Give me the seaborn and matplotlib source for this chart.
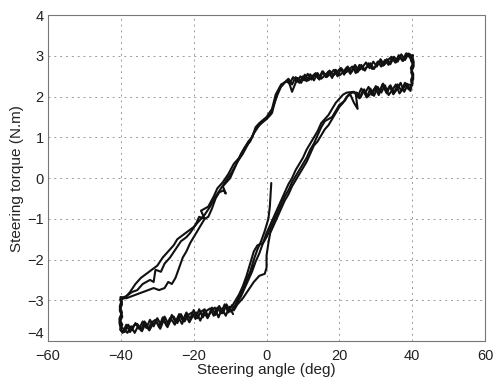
import numpy as np
import pandas as pd
import matplotlib
matplotlib.use("Agg")
import matplotlib.pyplot as plt
import seaborn as sns

angle_c1 = [1.3, 1.1, 0.9, 0.5, -0.5, -1.5, -2.5, -3.5, -4.5, -6, -7.5, -9,
            -10, -11, -12, -13, -14, -15, -16, -17, -18, -19, -20, -21, -22, -23, -24,
            -25, -26, -27, -28, -29, -30, -31, -32, -33, -34, -35, -36, -37, -38, -39,
            -40, -40.4, -39.6, -40.3, -39.7, -40.2,
            -39, -37.5, -36, -34.5, -33, -31.5, -30, -28.5, -27, -25.5, -24.5, -23, -21.5,
            -20, -18.5, -17, -15.5, -14, -12.5, -11, -9.5, -8, -6.5, -5, -3.5, -2, -0.5,
            1, 2, 3, 4, 5,
            6, 7, 8, 9, 10, 11, 12, 13, 14, 15, 16, 17, 18, 19, 20, 21, 22, 23, 24, 25,
            26, 27, 28, 29, 30, 31, 32, 33, 34, 35, 36, 37, 38, 39,
            40, 40.4, 39.6, 40.3, 39.7, 40.1,
            39, 38, 37, 36, 35, 34, 33, 32, 31, 30, 29, 28, 27, 26, 25, 24,
            22, 21, 20, 19, 18, 17, 16, 15, 14, 13, 12, 11, 10, 9, 8, 7, 6, 5, 4, 3,
            2, 1, 0, -1, -2, -3, -4, -5, -6, -7, -8, -9]
torque_c1 = [-0.12, -0.4, -0.7, -1.0, -1.3, -1.55, -1.75, -2.0, -2.3, -2.6, -2.9, -3.2,
             -3.28, -3.10, -3.32, -3.14, -3.36, -3.18, -3.40, -3.22, -3.28, -3.44, -3.24,
             -3.46, -3.30, -3.50, -3.34, -3.54, -3.36, -3.58, -3.40, -3.60, -3.44, -3.64,
             -3.48, -3.68, -3.52, -3.70, -3.56, -3.74, -3.60, -3.78,
             -3.72, -3.55, -3.40, -3.25, -3.10, -2.98,
             -2.95, -2.8, -2.6, -2.45, -2.35, -2.25, -2.15, -1.95, -1.8, -1.65, -1.5, -1.4,
             -1.3, -1.2, -1.05, -0.9, -0.7, -0.45, -0.25, -0.05, 0.15, 0.4, 0.6, 0.85, 1.1,
             1.3, 1.42, 1.55, 1.8, 2.05, 2.25, 2.35,
             2.44, 2.30, 2.48, 2.34, 2.50, 2.38, 2.55, 2.40, 2.58, 2.44, 2.52, 2.62, 2.46,
             2.66, 2.52, 2.60, 2.72, 2.56, 2.74, 2.60, 2.78, 2.64, 2.82, 2.68, 2.74, 2.88,
             2.76, 2.92, 2.80, 2.98, 2.86, 3.04, 2.90, 3.06,
             3.0, 2.85, 2.7, 2.55, 2.42, 2.32,
             2.18, 2.34, 2.14, 2.30, 2.10, 2.28, 2.08, 2.32, 2.12, 2.26, 2.04, 2.24, 2.08,
             2.20, 2.00, 2.12,
             2.1, 2.05, 1.95, 1.85, 1.7, 1.55, 1.45, 1.35, 1.15, 1.0, 0.85, 0.7, 0.5, 0.35,
             0.2, 0.0, -0.15, -0.35, -0.55, -0.75, -0.95, -1.15, -1.35, -1.6, -1.85, -2.05,
             -2.3, -2.5, -2.7, -2.9, -3.05, -3.2]

angle_c2 = [-9, -9.5, -10.5, -11.5, -12.5, -13.5, -14.5, -15.5, -16.5, -17.5, -18.5, -19.5,
            -20.5, -21.5, -22.5, -23.5, -24.5, -25.5, -26.5, -27.5, -28.5, -29.5, -30.5,
            -31.5, -32.5, -33.5, -34.5, -35.5, -36.5, -37.5, -38.5, -39.5,
            -40.2, -39.6, -40.4, -39.7, -40.3, -39.8, -40.1,
            -38.5, -37, -35.5, -34, -32, -31, -30.5, -29, -28, -26.5, -25, -23.5, -22, -21,
            -19.5, -18.5, -17, -18, -16, -14.5, -13.5, -12, -10.5, -9, -7.5, -6, -4.5, -3,
            -1.5, 0, 1.5, 2.5, 3.5, 5, 6, 7, 8,
            8.5, 9.5, 10.5, 11.5, 12.5, 13.5, 14.5, 15.5, 16.5, 17.5, 18.5, 19.5, 20.5,
            21.5, 22.5, 23.5, 24.5, 25.5, 26.5, 27.5, 28.5, 29.5, 30.5, 31.5, 32.5, 33.5,
            34.5, 35.5, 36.5, 37.5, 38.5, 39.5,
            40.2, 39.6, 40.4, 39.7, 40.3, 39.9,
            39.5, 38.5, 37.5, 36.5, 35.5, 34.5, 33.5, 32.5, 31.5, 30.5, 29.5, 28.5, 27.5,
            26.5, 25.5, 24.5,
            25, 24, 23, 22, 21, 20, 19, 18, 17, 16, 15, 14, 13, 12, 11, 10, 9, 8, 7, 6,
            5, 4, 3, 2, 1, 0.5, 0, 0, -0.5, -2, -3.5, -5, -6.5, -8, -9]
torque_c2 = [-3.2, -3.12, -3.30, -3.10, -3.32, -3.18, -3.38, -3.20, -3.26, -3.42, -3.22,
             -3.46, -3.30, -3.36, -3.52, -3.34, -3.56, -3.40, -3.44, -3.62, -3.42, -3.66,
             -3.48, -3.54, -3.70, -3.52, -3.74, -3.58, -3.62, -3.78, -3.60, -3.80,
             -3.72, -3.60, -3.45, -3.30, -3.15, -3.0, -2.95,
             -2.9, -2.8, -2.75, -2.6, -2.5, -2.55, -2.25, -2.3, -2.1, -1.95, -1.75, -1.55,
             -1.45, -1.35, -1.15, -0.95, -1.0, -0.8, -0.7, -0.45, -0.25, -0.1, 0.1, 0.35,
             0.5, 0.75, 0.9, 1.2, 1.35, 1.45, 1.6, 1.95, 2.2, 2.35, 2.4, 2.12, 2.35,
             2.46, 2.34, 2.54, 2.40, 2.50, 2.58, 2.42, 2.62, 2.48, 2.56, 2.66, 2.50, 2.70,
             2.58, 2.64, 2.74, 2.58, 2.78, 2.66, 2.72, 2.82, 2.68, 2.86, 2.74, 2.90, 2.78,
             2.96, 2.84, 3.00, 2.88, 3.06, 2.94,
             3.02, 2.9, 2.75, 2.6, 2.45, 2.32,
             2.14, 2.32, 2.20, 2.08, 2.30, 2.16, 2.04, 2.28, 2.10, 2.24, 2.02, 2.20, 1.98,
             2.16, 1.96, 2.06,
             1.7, 1.85, 2.05, 2.0, 1.85, 1.75, 1.6, 1.45, 1.3, 1.2, 1.05, 0.9, 0.8, 0.6,
             0.4, 0.25, 0.1, -0.05, -0.2, -0.4, -0.55, -0.75, -0.95, -1.15, -1.35, -1.6,
             -1.9, -2.2, -2.35, -2.4, -2.55, -2.75, -2.95, -3.1, -3.25]

angle_c3 = [-9.2, -10.2, -11.2, -12.2, -13.2, -14.2, -15.2, -16.2, -17.2, -18.2, -19.2,
            -20.2, -21.2, -22.2, -23.2, -24.2, -25.2, -26.2, -27.2, -28.2, -29.2, -30.2,
            -31.2, -32.2, -33.2, -34.2, -35.2, -36.2, -37.2, -38.2, -39.2,
            -39.7, -40.4, -39.8, -40.3, -39.7, -40.1,
            -38.5, -37, -35.5, -34, -32.5, -31, -29.5, -28, -27, -26, -25, -24, -23, -22,
            -21, -20, -19, -18, -17, -16, -15, -14, -13, -11.8, -11.2, -12, -10, -9, -8,
            -7, -6, -5, -4, -3, -2, 0, 1.5, 2.5, 4, 5.5,
            6.3, 7.3, 8.3, 9.3, 10.3, 11.3, 12.3, 13.3, 14.3, 15.3, 16.3, 17.3, 18.3, 19.3,
            20.3, 21.3, 22.3, 23.3, 24.3, 25.3, 26.3, 27.3, 28.3, 29.3, 30.3, 31.3, 32.3,
            33.3, 34.3, 35.3, 36.3, 37.3, 38.3,
            39.7, 40.4, 39.8, 40.3, 39.7, 40.0,
            38.8, 37.8, 36.8, 35.8, 34.8, 33.8, 32.8, 31.8, 30.8, 29.8, 28.8, 27.8, 26.8,
            25.8, 24.8,
            23.5, 22.5, 21.5, 20, 19, 18, 17, 16, 15, 14, 13, 12, 11, 10, 9, 8, 7, 6, 5,
            4, 3, 2, 1, 0, -1, -2.5, -3.5, -4.5, -5.5, -6.5, -7.5, -8.5, -9.5, -10.5]
torque_c3 = [-3.34, -3.16, -3.38, -3.20, -3.42, -3.18, -3.26, -3.44, -3.28, -3.50, -3.30,
             -3.38, -3.54, -3.36, -3.58, -3.42, -3.60, -3.46, -3.66, -3.48, -3.70, -3.52,
             -3.58, -3.74, -3.56, -3.76, -3.62, -3.80, -3.64, -3.80, -3.70,
             -3.68, -3.50, -3.35, -3.20, -3.05, -2.92,
             -2.95, -2.9, -2.85, -2.8, -2.75, -2.7, -2.75, -2.7, -2.55, -2.6, -2.45, -2.2,
             -1.95, -1.8, -1.6, -1.45, -1.3, -1.15, -1.0, -0.95, -0.75, -0.5, -0.35,
             -0.3, -0.38, -0.2, 0.0, 0.2, 0.4, 0.6, 0.75, 0.9, 1.0, 1.25, 1.35, 1.5,
             1.7, 2.05, 2.3, 2.38,
             2.32, 2.48, 2.36, 2.50, 2.40, 2.56, 2.42, 2.54, 2.44, 2.62, 2.48, 2.64, 2.52,
             2.60, 2.70, 2.54, 2.74, 2.60, 2.78, 2.64, 2.72, 2.84, 2.70, 2.86, 2.74, 2.92,
             2.78, 2.90, 2.98, 2.84, 3.02, 2.88, 3.06,
             3.0, 2.8, 2.65, 2.5, 2.38, 2.28,
             2.30, 2.12, 2.34, 2.18, 2.06, 2.26, 2.12, 2.30, 2.04, 2.22, 2.10, 2.00, 2.18,
             1.98, 2.10,
             2.1, 2.05, 1.9, 1.8, 1.65, 1.5, 1.45, 1.4, 1.25, 1.05, 0.85, 0.7, 0.5, 0.35,
             0.2, 0.05, -0.1, -0.3, -0.45, -0.65, -0.85, -1.05, -1.25, -1.45, -1.6, -1.65,
             -1.8, -2.1, -2.4, -2.65, -2.85, -3.0, -3.15, -3.2]

x_ticks = [-60, -40, -20, 0, 20, 40, 60]
y_ticks = [-4, -3, -2, -1, 0, 1, 2, 3, 4]
x_label = "Steering angle (deg)"
y_label = "Steering torque (N.m)"

# ---- build table ----
frames = []
for name, a, t in [("c1", angle_c1, torque_c1), ("c2", angle_c2, torque_c2),
                   ("c3", angle_c3, torque_c3)]:
    n = min(len(a), len(t))
    frames.append(pd.DataFrame({"angle": a[:n], "torque": t[:n], "cycle": name}))
df = pd.concat(frames, ignore_index=True)

sns.set_theme(style="white")
plt.rcParams['font.family'] = ['Liberation Sans', 'DejaVu Sans']

fig = plt.figure(figsize=(4.95, 3.81), dpi=100)
ax = fig.add_axes([0.097, 0.105, 0.883, 0.855])

sns.lineplot(data=df, x="angle", y="torque", units="cycle", estimator=None,
             sort=False, color="#111111", linewidth=1.5, ax=ax, legend=False)

ax.set_xlim(-60, 60)
ax.set_ylim(-4, 4)
ax.set_xticks(x_ticks)
ax.set_yticks(y_ticks)
ax.grid(True, color="#9a9a9a", linestyle=(0, (2, 4)), linewidth=0.7)
ax.tick_params(axis="both", direction="in", length=3, labelsize=10.5,
               colors="#222222")
ax.tick_params(axis="x", pad=6)
ax.tick_params(axis="y", pad=3)
for s in ax.spines.values():
    s.set_color("#777777")
    s.set_linewidth(0.8)
    s.set_linestyle((0, (1, 1)))
ax.set_xlabel(x_label, fontsize=11, color="#222222", labelpad=0)
ax.set_ylabel(y_label, fontsize=11, color="#222222", labelpad=2)
# nudge the lowest y label up a little so it clears the first x label, as in the source
ax.get_yticklabels()[0].set_verticalalignment("bottom")

fig.savefig("out.png", dpi=100)
